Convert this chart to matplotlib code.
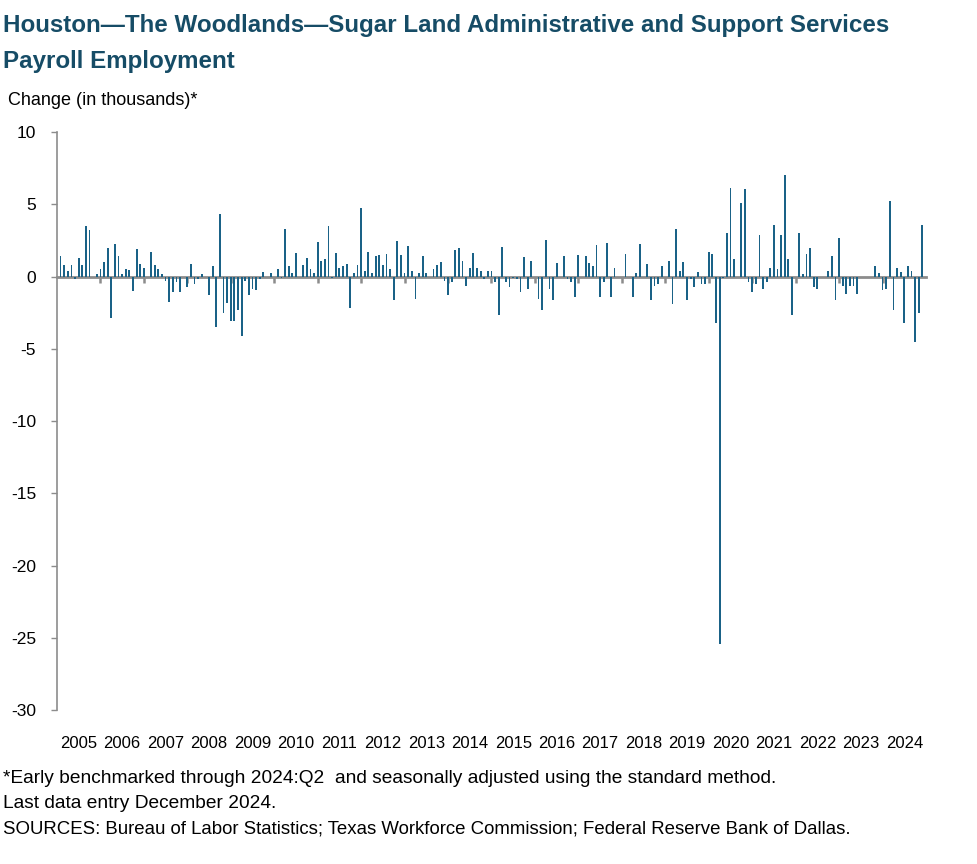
"""
plot.py - Houston administrative and support services payroll change chart
"""
import matplotlib
matplotlib.use('Agg')
import matplotlib.pyplot as plt
from matplotlib import font_manager
import numpy as np

# condensed font if available
_names = {f.name for f in font_manager.fontManager.ttflist}
FONT = 'Liberation Sans Narrow' if 'Liberation Sans Narrow' in _names else 'Liberation Sans'
plt.rcParams['font.family'] = [FONT, 'DejaVu Sans']

# monthly change in thousands, Feb 2005 .. Dec 2024
changes_2005_2009 = [
    1.4, 0.8, 0.4, 0.8, -0.2, 1.3, 0.8, 3.5, 3.2, 0.0, 0.2, 0.5,
    1.0, 2.0, -2.85, 2.25, 1.4, 0.2, 0.5, 0.45, -1.0, 1.9, 0.9, 0.6,
    0.0, 1.7, 0.8, 0.5, 0.2, -0.3, -1.75, -1.05, -0.4, -1.05, 0.0, -0.7,
    0.9, -0.5, -0.2, 0.15, 0.0, -1.3, 0.75, -3.5, 4.3, -2.55, -1.85, -3.05,
    -3.05, -2.3, -4.15, -0.3, -1.3, -0.85, -0.9, -0.2, 0.3, 0.0, 0.25, 0.0,
]
changes_2010_2014 = [
    0.5, -0.1, 3.3, 0.7, 0.25, 1.6, 0.0, 0.8, 1.25, 0.5, 0.25, 2.4,
    1.05, 1.2, 3.5, -0.1, 1.6, 0.6, 0.7, 0.85, -2.2, 0.25, 0.8, 4.75,
    0.35, 1.7, 0.25, 1.4, 1.5, 0.8, 1.55, 0.5, -1.65, 2.45, 1.5, 0.25,
    2.1, 0.35, -1.55, 0.25, 1.4, 0.25, 0.0, 0.5, 0.8, 1.0, -0.3, -1.3,
    -0.4, 1.85, 1.95, 1.05, -0.65, 0.6, 1.6, 0.6, 0.4, -0.2, 0.4, 0.4,
]
changes_2015_2019 = [
    -0.4, -2.65, 2.05, -0.35, -0.75, -0.1, -0.2, -1.05, 1.35, -0.85, 1.05, 0.0,
    -1.55, -2.35, 2.55, -0.85, -1.65, 0.95, 0.0, 1.4, -0.2, -0.4, -1.45, 1.5,
    0.0, 1.4, 0.95, 0.7, 2.2, -1.4, -0.4, 2.3, -1.45, 0.6, 0.0, 0.0,
    1.55, 0.0, -1.45, 0.25, 2.25, 0.0, 0.85, -1.6, -0.65, -0.5, 0.75, 0.0,
    1.05, -1.9, 3.3, 0.35, 1.0, -1.6, -0.2, -0.7, 0.3, -0.55, -0.55, 1.7,
]
changes_2020_2024 = [
    1.55, -3.25, -25.4, -0.1, 3.0, 6.15, 1.2, 0.0, 5.1, 6.05, -0.4, -1.1,
    -0.5, 2.85, -0.85, -0.35, 0.6, 3.6, 0.55, 2.85, 7.05, 1.2, -2.65, 0.0,
    3.0, 0.2, 1.55, 1.95, -0.75, -0.85, 0.0, 0.0, 0.35, 1.4, -1.6, 2.65,
    -0.65, -1.2, -0.65, -0.65, -1.2, 0.0, 0.0, 0.0, 0.0, 0.7, 0.25, -0.9,
    -0.85, 5.2, -2.3, 0.6, 0.3, -3.2, 0.7, 0.4, -4.5, -2.55, 3.6,
]
years = list(range(2005, 2025))
y_ticks = [10, 5, 0, -5, -10, -15, -20, -25, -30]

changes = np.array(changes_2005_2009 + changes_2010_2014 + changes_2015_2019 + changes_2020_2024)
months = np.arange(1, len(changes) + 1)  # months since Jan 2005

BAR = '#1a6287'
TITLE = '#164c66'
GRAY = '#8c8c8c'

fig = plt.figure(figsize=(9.77, 8.64), dpi=100)
ax = fig.add_axes([0.0583, 0.1782, 0.8895, 0.669])

ax.bar(months, changes, width=0.5, color=BAR, zorder=2)
ax.set_xlim(0, 12 * len(years))
ax.set_ylim(-30, 10)

# y axis
ax.set_yticks(y_ticks)
ax.set_yticklabels([str(v) for v in y_ticks])
ax.tick_params(axis='y', direction='out', length=4, width=1, color=GRAY, pad=11, labelsize=12.5)
ax.spines['left'].set_color(GRAY)
ax.spines['left'].set_linewidth(1.2)
for s in ['top', 'right']:
    ax.spines[s].set_visible(False)

# zero line with year ticks
ax.spines['bottom'].set_position(('data', 0))
ax.spines['bottom'].set_color(GRAY)
ax.spines['bottom'].set_linewidth(2)
ax.spines['bottom'].set_zorder(1)
ax.set_xticks([12 * k for k in range(1, len(years))])
ax.set_xticklabels([])
ax.tick_params(axis='x', direction='out', length=4.5, width=1.8, color=GRAY)

# year labels under the plot
sec = ax.secondary_xaxis(0)
sec.set_xticks([12 * k + 6 for k in range(len(years))])
sec.set_xticklabels([str(y) for y in years])
sec.tick_params(length=0, pad=19, labelsize=12)
sec.spines['bottom'].set_visible(False)

fig.text(0.003, 0.971, 'Houston\u2014The Woodlands\u2014Sugar Land Administrative and Support Services',
         fontsize=17.4, fontweight='bold', color=TITLE, va='center', ha='left')
fig.text(0.003, 0.929, 'Payroll Employment',
         fontsize=17.4, fontweight='bold', color=TITLE, va='center', ha='left')
fig.text(0.008, 0.884, 'Change (in thousands)*', fontsize=13, va='center', ha='left')

fig.text(0.003, 0.099, '*Early benchmarked through 2024:Q2  and seasonally adjusted using the standard method.',
         fontsize=13.8, va='center', ha='left')
fig.text(0.003, 0.070, 'Last data entry December 2024.', fontsize=13.8, va='center', ha='left')
fig.text(0.003, 0.040, 'SOURCES: Bureau of Labor Statistics; Texas Workforce Commission; Federal Reserve Bank of Dallas.',
         fontsize=13.4, va='center', ha='left')

fig.savefig('out.png', dpi=100)
